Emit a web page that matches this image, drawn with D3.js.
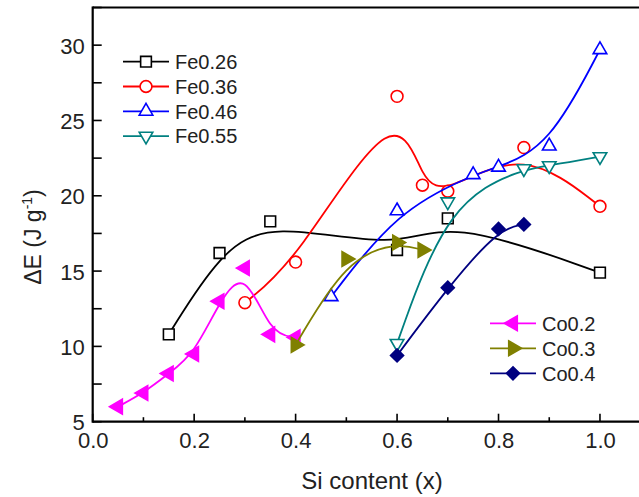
<!DOCTYPE html>
<html>
<head>
<meta charset="utf-8">
<script src="https://cdn.jsdelivr.net/npm/d3@7"></script>
<style>
  html, body { margin: 0; padding: 0; background: #fff; }
  svg { display: block; font-family: Arial, "Liberation Sans", Helvetica, sans-serif; }
</style>
</head>
<body>
<svg id="chart" width="639" height="497"></svg>
<script>
// ---- data ----
const fe026_x = [0.15, 0.25, 0.35, 0.60, 0.70, 1.00];
const fe026_y = [10.8, 16.2, 18.3, 16.4, 18.5, 14.9];

const fe036_x = [0.30, 0.40, 0.60, 0.65, 0.70, 0.85, 1.00];
const fe036_y = [12.9, 15.6, 26.6, 20.7, 20.3, 23.2, 19.3];

const fe046_x = [0.47, 0.60, 0.75, 0.80, 0.90, 1.00];
const fe046_y = [13.3, 19.0, 21.4, 21.9, 23.3, 29.7];

const fe055_x = [0.60, 0.70, 0.85, 0.90, 1.00];
const fe055_y = [10.2, 19.6, 21.8, 22.0, 22.6];

const co02_x = [0.05, 0.10, 0.15, 0.20, 0.25, 0.30, 0.35, 0.40];
const co02_y = [6.0, 6.9, 8.2, 9.5, 13.0, 15.2, 10.8, 10.6];

const co03_x = [0.40, 0.50, 0.60, 0.65];
const co03_y = [10.1, 15.8, 16.9, 16.4];

const co04_x = [0.60, 0.70, 0.80, 0.85];
const co04_y = [9.4, 13.9, 17.8, 18.1];

const seriesNames = ["Fe0.26", "Fe0.36", "Fe0.46", "Fe0.55", "Co0.2", "Co0.3", "Co0.4"];
const xTicks = [0.0, 0.2, 0.4, 0.6, 0.8, 1.0];
const yTicks = [5, 10, 15, 20, 25, 30];
const xLabel = "Si content (x)";

// ---- styles ----
const styles = {
  "Fe0.26": { color: "#000000", shape: "square",   filled: false },
  "Fe0.36": { color: "#ff0000", shape: "circle",   filled: false },
  "Fe0.46": { color: "#0000ff", shape: "triUp",    filled: false },
  "Fe0.55": { color: "#008080", shape: "triDown",  filled: false },
  "Co0.2":  { color: "#ff00ff", shape: "triLeft",  filled: true },
  "Co0.3":  { color: "#808000", shape: "triRight", filled: true },
  "Co0.4":  { color: "#000080", shape: "diamond",  filled: true }
};

const seriesData = {
  "Fe0.26": d3.zip(fe026_x, fe026_y),
  "Fe0.36": d3.zip(fe036_x, fe036_y),
  "Fe0.46": d3.zip(fe046_x, fe046_y),
  "Fe0.55": d3.zip(fe055_x, fe055_y),
  "Co0.2":  d3.zip(co02_x, co02_y),
  "Co0.3":  d3.zip(co03_x, co03_y),
  "Co0.4":  d3.zip(co04_x, co04_y)
};

const svg = d3.select("#chart");
const plotL = 92.7, plotR = 650.7, plotT = 7.5, plotB = 421.7;

const x = d3.scaleLinear().domain([0, 1.1]).range([plotL, plotR]);
const y = d3.scaleLinear().domain([5, 32.5]).range([plotB, plotT]);

// symbol generator
function symbolPath(shape) {
  let sym, size, rot = 0;
  switch (shape) {
    case "square":   sym = d3.symbolSquare;   size = 115; break;
    case "circle":   sym = d3.symbolCircle;   size = 110; break;
    case "triUp":    sym = d3.symbolTriangle; size = 80; rot = 0; break;
    case "triDown":  sym = d3.symbolTriangle; size = 80; rot = 180; break;
    case "triLeft":  sym = d3.symbolTriangle; size = 95; rot = -90; break;
    case "triRight": sym = d3.symbolTriangle; size = 95; rot = 90; break;
    case "diamond":  sym = d3.symbolSquare;   size = 85; rot = 45; break;
  }
  return { d: d3.symbol().type(sym).size(size)(), rot };
}

function drawMarker(g, shape, color, filled, cx, cy) {
  const s = symbolPath(shape);
  g.append("path")
    .attr("d", s.d)
    .attr("transform", `translate(${cx},${cy}) rotate(${s.rot})`)
    .attr("fill", filled ? color : "#fff")
    .attr("stroke", color)
    .attr("stroke-width", 1.6);
}

// ---- axes ----
const axisG = svg.append("g");

const xAxis = d3.axisBottom(x).tickValues(xTicks).tickFormat(d3.format(".1f")).tickSize(0).tickPadding(0);
const gx = axisG.append("g").attr("transform", `translate(0,${plotB})`).call(xAxis);
gx.select(".domain").remove();
gx.selectAll("text").attr("font-size", 22).attr("fill", "#222").attr("y", 26).attr("dy", 0);

const yAxis = d3.axisLeft(y).tickValues(yTicks).tickSize(0).tickPadding(0);
const gy = axisG.append("g").attr("transform", `translate(${plotL},0)`).call(yAxis);
gy.select(".domain").remove();
gy.selectAll("text").attr("font-size", 22).attr("fill", "#222").attr("x", -8).attr("dy", "0.36em");

// ticks (inward)
const xMajor = d3.range(0, 1.101, 0.2);
const xMinor = d3.range(0.1, 1.101, 0.2);
const tickG = svg.append("g").attr("stroke", "#000").attr("stroke-width", 1.6);
xMajor.forEach(v => tickG.append("line").attr("x1", x(v)).attr("x2", x(v)).attr("y1", plotB).attr("y2", plotB - 8));
xMinor.forEach(v => tickG.append("line").attr("x1", x(v)).attr("x2", x(v)).attr("y1", plotB).attr("y2", plotB - 4.5));
d3.range(5, 32.6, 2.5).forEach(v => tickG.append("line").attr("x1", plotL).attr("x2", plotL + 9).attr("y1", y(v)).attr("y2", y(v)));

// frame
svg.append("line").attr("x1", plotL).attr("x2", 660).attr("y1", plotB).attr("y2", plotB).attr("stroke", "#000").attr("stroke-width", 2.2);
svg.append("line").attr("x1", plotL).attr("x2", 660).attr("y1", plotT).attr("y2", plotT).attr("stroke", "#000").attr("stroke-width", 2.2);
svg.append("line").attr("x1", plotL).attr("x2", plotL).attr("y1", plotT - 1.1).attr("y2", plotB + 1.1).attr("stroke", "#000").attr("stroke-width", 2.2);

// axis titles
svg.append("text").attr("x", 372).attr("y", 489).attr("text-anchor", "middle")
  .attr("font-size", 24).attr("fill", "#222").text(xLabel);

const yt = svg.append("text").attr("transform", "translate(41,237) rotate(-90)")
  .attr("text-anchor", "middle").attr("font-size", 23).attr("fill", "#222");
yt.append("tspan").text("\u0394E (J g");
yt.append("tspan").attr("font-size", 14).attr("dy", -9).text("-1");
yt.append("tspan").attr("dy", 9).text(")");

// ---- series ----
const lineGen = d3.line().x(d => x(d[0])).y(d => y(d[1])).curve(d3.curveBasis);
const plotG = svg.append("g");
seriesNames.forEach(name => {
  const st = styles[name];
  const data = seriesData[name];
  plotG.append("path").attr("d", lineGen(data)).attr("fill", "none")
    .attr("stroke", st.color).attr("stroke-width", 1.8);
  const mg = plotG.append("g");
  data.forEach(d => drawMarker(mg, st.shape, st.color, st.filled, x(d[0]), y(d[1])));
});

// ---- legends ----
function legend(names, x0, y0, dy) {
  const g = svg.append("g");
  names.forEach((name, i) => {
    const st = styles[name];
    const yy = y0 + i * dy;
    g.append("line").attr("x1", x0).attr("x2", x0 + 46).attr("y1", yy).attr("y2", yy)
      .attr("stroke", st.color).attr("stroke-width", 1.8);
    drawMarker(g, st.shape, st.color, st.filled, x0 + 23, yy);
    g.append("text").attr("x", x0 + 52).attr("y", yy).attr("dy", "0.36em")
      .attr("font-size", 20).attr("fill", "#222").text(name);
  });
}
legend(seriesNames.slice(0, 4), 123, 61.7, 24.8);
legend(seriesNames.slice(4), 490, 323.3, 25);
</script>
</body>
</html>
